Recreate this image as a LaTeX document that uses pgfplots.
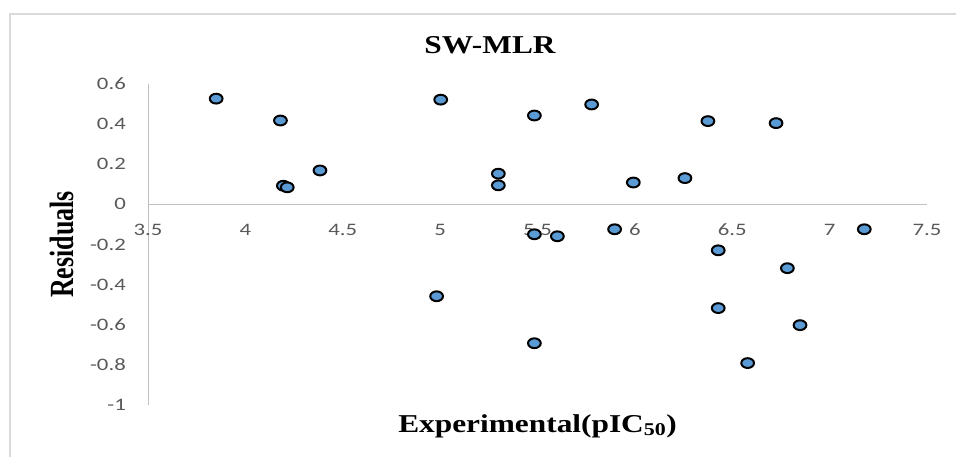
\documentclass[border=0pt]{standalone}
\usepackage{pgfplots}
\pgfplotsset{compat=1.18}
\usepackage{graphicx}
\usepackage{fontspec}
\setmainfont{Liberation Serif}
\newfontfamily\tickfont[FakeStretch=1.3]{Carlito}
\newfontfamily\serifwide[FakeStretch=1.22]{Liberation Serif}
\definecolor{ptfill}{HTML}{5B9BD5}
\definecolor{axgray}{HTML}{BFBFBF}
\definecolor{ticktext}{HTML}{595959}
\definecolor{framegray}{HTML}{D9D9D9}
\begin{document}
\begin{tikzpicture}[x=1pt,y=1pt]
\path[use as bounding box] (0,0) rectangle (956,-457);
\begin{scope}
\clip (0,0) rectangle (956,-457);
\draw[framegray, line width=1.5pt] (10,-470) -- (10,-14) -- (975,-14);
\end{scope}
\begin{axis}[
  at={(148pt,-405pt)}, anchor=south west,
  scale only axis, width=779pt, height=321pt,
  xmin=3.5, xmax=7.5, ymin=-1, ymax=0.6,
  axis x line=middle, axis y line=left,
  axis line style={-, draw=axgray, line width=1pt},
  hide obscured x ticks=false, hide obscured y ticks=false,
  xtick={3.5,4,4.5,5,5.5,6,6.5,7,7.5},
  ytick={-1,-0.8,-0.6,-0.4,-0.2,0,0.2,0.4,0.6},
  major tick length=0pt, tick style={draw=none},
  /pgf/number format/assume math mode=true,
  ticklabel style={font=\tickfont\fontsize{17.5}{20}\selectfont, text=ticktext, inner sep=0pt},
  xticklabel style={anchor=center, yshift=-25.5pt},
  yticklabel style={anchor=east, xshift=-22pt},
  clip=false,
  every axis title/.style={at={(rel axis cs:0.439,1)}, anchor=base, yshift=30.5pt,
    font=\serifwide\bfseries\fontsize{25.7}{28}\selectfont},
  title={SW-MLR},
  every axis x label/.style={at={(rel axis cs:0.5,0)}, anchor=base, yshift=-27pt,
    font=\serifwide\bfseries\fontsize{25.7}{28}\selectfont},
  xlabel={Experimental(pIC\textsubscript{50})},
  every axis y label/.style={at={(rel axis cs:0,0.5)}, anchor=center, xshift=-86pt, rotate=90,
    font=\bfseries\fontsize{26}{28}\selectfont},
  ylabel={\scalebox{1}[1.3]{Residuals}},
]
\addplot[only marks, mark=*, mark size=4.9pt,
  mark options={fill=ptfill, draw=black, line width=2pt, xscale=1.3}]
coordinates {
(3.85,0.527)
(4.18,0.418)
(4.195,0.093)
(4.215,0.085)
(4.383,0.169)
(5.003,0.522)
(5.484,0.443)
(5.778,0.498)
(5.299,0.153)
(5.299,0.095)
(5.992,0.109)
(6.257,0.131)
(6.375,0.415)
(6.725,0.405)
(5.484,-0.149)
(5.602,-0.159)
(5.896,-0.124)
(7.178,-0.124)
(6.428,-0.229)
(6.783,-0.318)
(6.428,-0.517)
(6.848,-0.602)
(5.484,-0.692)
(6.579,-0.791)
(4.982,-0.458)
};
\end{axis}
\end{tikzpicture}
\end{document}
